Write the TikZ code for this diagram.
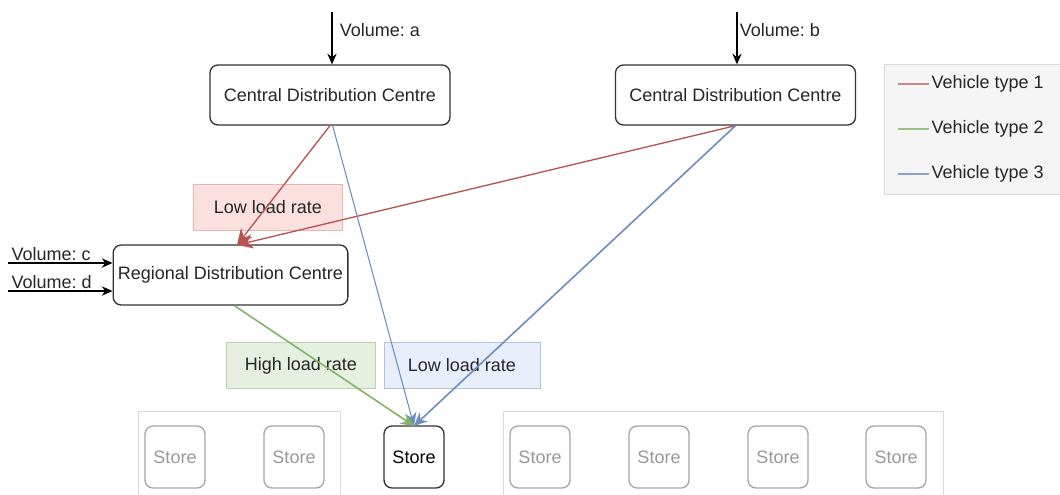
\documentclass[tikz,border=0pt]{standalone}
\usepackage{fontspec}
\setmainfont{Liberation Sans}
\frenchspacing
\usetikzlibrary{arrows.meta}
\definecolor{redE}{HTML}{B85450}
\definecolor{greenE}{HTML}{82B366}
\definecolor{blueE}{HTML}{6C8EBF}
\definecolor{redF}{HTML}{FAE1E0}
\definecolor{redB}{HTML}{EDB3B1}
\definecolor{greenF}{HTML}{E6F0E1}
\definecolor{greenB}{HTML}{BAD5AD}
\definecolor{blueF}{HTML}{E8EEFA}
\definecolor{blueB}{HTML}{B0C3E3}
\tikzset{
  every node/.style={font=\fontsize{13.5}{16}\selectfont, text=black!85},
  dc/.style={draw=black!80, line width=1pt, rounded corners=6pt, minimum width=180pt, minimum height=45pt},
  store/.style={draw=black!35, text=black!40, line width=1pt, rounded corners=6pt, minimum width=45pt, minimum height=46.5pt, inner sep=0pt},
  mainstore/.style={store, draw=black!80, text=black},
  group/.style={draw=black!15, line width=0.6pt, fill=white},
  lbl/.style={line width=0.6pt, minimum width=112pt, minimum height=34pt},
  tip/.style={-{Stealth[length=8pt,width=7pt]}},
  vol/.style={draw=black, line width=1pt, tip},
}
\begin{document}
\begin{tikzpicture}[x=0.75pt,y=-0.75pt]
\useasboundingbox (0,0) rectangle (1060,494);
% legend
\fill[black!4] (884,64) rectangle (1062,194);
\draw[black!15, line width=0.6pt] (1062,64) -- (884,64) -- (884,194) -- (1062,194);
\coordinate (l1a) at (898,84); \coordinate (l1b) at (929,84);
\coordinate (l2a) at (898,129); \coordinate (l2b) at (929,129);
\coordinate (l3a) at (898,174); \coordinate (l3b) at (929,174);
\draw[redE!70, line width=1.2pt] (l1a) -- (l1b) node[right=-2pt] (t1) {Vehicle type 1};
\draw[greenE!80, line width=1.2pt] (l2a) -- (l2b) node[right=-2pt] (t2) {Vehicle type 2};
\draw[blueE!80, line width=1.2pt] (l3a) -- (l3b) node[right=-2pt] (t3) {Vehicle type 3};
% store groups
\node[group, minimum width=151.5pt, minimum height=66pt, anchor=north west] (g1) at (138,411) {};
\node[group, minimum width=330pt, minimum height=66pt, anchor=north west] (g2) at (503,411) {};
\node[store] (s1) at (175,457) {Store};
\node[store] (s2) at (294,457) {Store};
\node[mainstore] (s) at (414,457) {Store};
\node[store] (s4) at (540,457) {Store};
\node[store] (s5) at (659,457) {Store};
\node[store] (s6) at (778,457) {Store};
\node[store] (s7) at (896,457) {Store};
% DCs
\node[dc, fill=white] (ca) at (330,95) {Central Distribution Centre};
\node[dc, fill=white] (cb) at (735.5,95) {Central Distribution Centre};
\node[dc, minimum width=176pt, fill=white] (rd) at (230.5,275) {Regional Distribution Centre};
% labels
\node[lbl, draw=redB, fill=redF] (lr) at (268,207.5) {Low load rate};
\node[lbl, draw=greenB, fill=greenF] (hl) at (301,365.5) {High load rate};
\node[lbl, draw=blueB, fill=blueF, minimum width=117pt] (ll) at (462,365.5) {Low load rate};
% volume inputs
\coordinate (va) at (332,12);
\coordinate (vb) at (737,12);
\coordinate (vc) at (8,263);
\coordinate (vd) at (8,291);
\draw[vol] (va) -- (ca.north -| va) ;
\node[anchor=west, inner sep=2pt] (tva) at (337,30) {Volume: a};
\draw[vol] (vb) -- (cb.north -| vb);
\node[anchor=west, inner sep=2pt] (tvb) at (737,30) {Volume: b};
\draw[vol] (vc) -- (rd.west |- vc);
\node[anchor=south west, inner sep=1pt] (tvc) at (10,262) {Volume: c};
\draw[vol] (vd) -- (rd.west |- vd);
\node[anchor=south west, inner sep=1pt] (tvd) at (10,290) {Volume: d};
% edges
\coordinate (rdtop) at (237,245);
\coordinate (stop) at (414,426);
\draw[redE, line width=1pt, -{Stealth[length=12pt,width=11pt]}] (ca.south) -- (rdtop);
\draw[redE, line width=1pt, -{Stealth[length=12pt,width=11pt]}] (cb.south) -- (rdtop);
\draw[blueE, line width=0.8pt, -{Stealth[length=10pt,width=9pt]}] ([xshift=2pt]ca.south) -- (stop);
\draw[blueE, line width=1.2pt, -{Stealth[length=10pt,width=9pt]}] (cb.south) -- (stop);
\draw[greenE, line width=1.2pt, -{Stealth[length=10pt,width=9pt]}] ([xshift=3pt]rd.south) -- (stop);
\end{tikzpicture}
\end{document}
